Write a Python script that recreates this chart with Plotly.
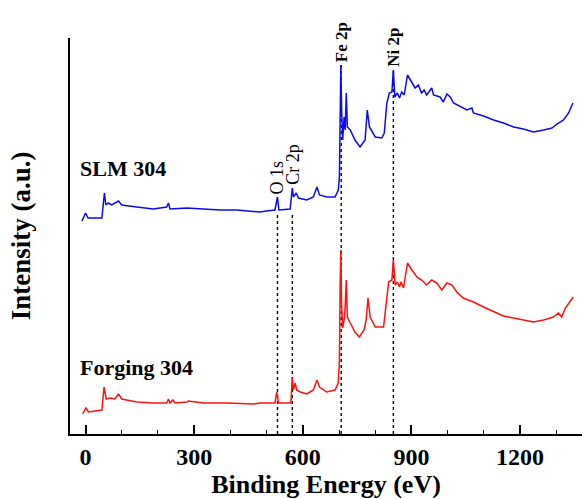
import numpy as np
import plotly.graph_objects as go

# Binding energy (eV) and intensity (a.u.)
slm_x = [-10, 0, 7, 45, 52, 56, 63, 72, 91, 100, 141, 187, 224, 229, 233, 280, 325, 372, 418, 464, 482,
         500, 523, 530, 534, 565, 571, 574, 582, 588, 611, 629, 639, 646, 666, 689, 698, 701, 703, 705,
         707, 710, 714, 717, 720, 723, 731, 744, 758, 772, 778, 784, 800, 818, 825, 832, 839, 846, 850,
         854, 861, 867, 873, 880, 889, 901, 910, 919, 928, 935, 942, 956, 961, 979, 988, 998, 1007, 1016,
         1035, 1053, 1067, 1071, 1099, 1127, 1154, 1182, 1209, 1237, 1265, 1288, 1302, 1320, 1334, 1346]
slm_y = [213, 221, 216, 216, 241, 229, 231, 229, 233, 229, 227, 225, 227, 231, 225, 226, 225, 224, 224, 223, 222,
         223, 224, 237, 224, 225, 246, 237, 241, 236, 234, 237, 247, 239, 237, 237, 244, 257, 327, 369,
         327, 294, 317, 304, 341, 307, 304, 294, 287, 294, 324, 307, 297, 296, 301, 331, 341, 342, 364,
         337, 341, 336, 342, 339, 359, 352, 346, 349, 341, 344, 339, 346, 339, 337, 332, 340, 337, 331,
         327, 324, 326, 321, 318, 314, 311, 307, 305, 302, 304, 306, 310, 314, 321, 331]

forging_x = [-8, 1, 8, 45, 51, 57, 68, 81, 91, 100, 141, 187, 224, 229, 233, 241, 247, 280, 284, 325, 390, 464,
             482, 523, 528, 533, 567, 571, 574, 579, 583, 593, 611, 629, 639, 646, 666, 689, 698, 701, 703,
             705, 707, 710, 714, 717, 720, 723, 731, 744, 756, 769, 775, 780, 786, 800, 823, 830, 837, 846,
             850, 855, 861, 867, 871, 878, 889, 901, 915, 928, 942, 956, 970, 984, 998, 1012, 1025, 1043,
             1071, 1099, 1127, 1154, 1182, 1209, 1237, 1265, 1292, 1306, 1315, 1325, 1338, 1347]
forging_y = [20, 26, 22, 24, 47, 35, 36, 35, 40, 35, 32, 31, 31, 35, 31, 34, 31, 32, 33, 31, 31, 30,
             31, 31, 42, 31, 31, 56, 44, 51, 44, 42, 40, 44, 54, 47, 42, 44, 51, 74, 147,
             184, 131, 106, 114, 127, 154, 117, 111, 102, 97, 104, 114, 136, 117, 107, 107, 131, 152, 154,
             174, 149, 152, 147, 152, 146, 171, 164, 157, 154, 149, 154, 151, 144, 151, 149, 142, 136,
             132, 127, 122, 118, 116, 114, 112, 114, 117, 121, 117, 126, 132, 137]

peak_labels = ["O 1s", "Cr 2p", "Fe 2p", "Ni 2p"]
peak_energy = [530, 571, 706, 850]
peak_bold = [False, False, True, True]
sample_labels = ["SLM 304", "Forging 304"]
sample_label_y = [266, 67]

x_ticks = [0, 300, 600, 900, 1200]

serif = "Liberation Serif, Times New Roman, serif"

fig = go.Figure()
fig.add_trace(go.Scatter(x=slm_x, y=slm_y, mode="lines",
                         line=dict(color="#0a0af0", width=1.5), name=sample_labels[0]))
fig.add_trace(go.Scatter(x=forging_x, y=forging_y, mode="lines",
                         line=dict(color="#ff1010", width=1.5), name=sample_labels[1]))

sx = np.array(slm_x)
sy = np.array(slm_y)
# dotted reference lines from the SLM curve down to the axis
for e, lab, b in zip(peak_energy, peak_labels, peak_bold):
    near = sy[np.abs(sx - e) <= 4]
    top = float(near.max()) if near.size else float(np.interp(e, sx, sy))
    base = float(np.interp(e - 8, sx, sy))
    fig.add_shape(type="line", x0=e, x1=e, y0=0, y1=(base - 4) if not b else top,
                  xref="x", yref="y", line=dict(color="black", width=1.4, dash="dot"), layer="below")
    fig.add_annotation(x=e, y=top + 1, text=(f"<b>{lab}</b>" if b else lab),
                       textangle=-90, showarrow=False, xanchor="center", yanchor="bottom",
                       font=dict(family=serif, size=18 if not b else 17, color="black"))

# sample labels
for lab, ly in zip(sample_labels, sample_label_y):
    fig.add_annotation(x=-22, y=ly, text=f"<b>{lab}</b>",
                       showarrow=False, xanchor="left", yanchor="middle",
                       font=dict(family=serif, size=22, color="black"))

fig.update_layout(
    width=582, height=499,
    margin=dict(l=70, r=0, t=38, b=65, autoexpand=False),
    plot_bgcolor="white", paper_bgcolor="white",
    showlegend=False,
    font=dict(family=serif, color="black"),
)
fig.update_xaxes(
    range=[-43, 1371], tickvals=x_ticks, ticktext=[str(v) for v in x_ticks],
    ticks="inside", ticklen=9, tickwidth=1.5, tickcolor="black",
    minor=dict(dtick=100, tick0=0, ticks="inside", ticklen=4, tickwidth=1.2, tickcolor="black"),
    showline=True, linecolor="black", linewidth=1.8, mirror=False, showgrid=False, zeroline=False,
    tickfont=dict(family=serif, size=24, color="black", weight="bold"),
    automargin=False,
    title=dict(text="<b>Binding Energy (eV)</b>", font=dict(family=serif, size=26, color="black"), standoff=7),
)
fig.update_yaxes(
    range=[0, 396], showticklabels=False, ticks="",
    showline=True, linecolor="black", linewidth=1.8, mirror=False, showgrid=False, zeroline=False,
    automargin=False,
    title=dict(text="<b>Intensity (a.u.)</b>", font=dict(family=serif, size=27, color="black"), standoff=30),
)

fig.write_html("out.html", config={"displayModeBar": False},
               post_script="document.body.style.margin='0';document.body.style.overflow='hidden';")
